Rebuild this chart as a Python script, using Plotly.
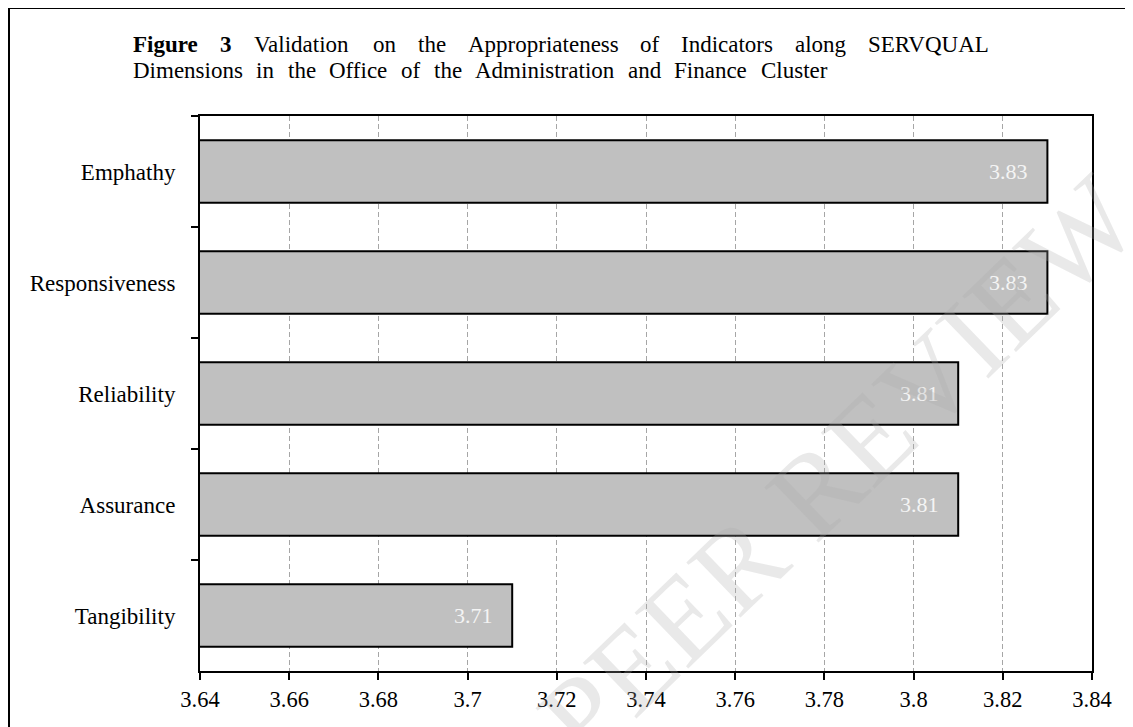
import plotly.graph_objects as go

# ---- data ----
categories = ["Emphathy", "Responsiveness", "Reliability", "Assurance", "Tangibility"]
values = [3.83, 3.83, 3.81, 3.81, 3.71]
value_labels = ["3.83", "3.83", "3.81", "3.81", "3.71"]
x_tickvals = [3.64, 3.66, 3.68, 3.70, 3.72, 3.74, 3.76, 3.78, 3.80, 3.82, 3.84]
x_ticktext = ["3.64", "3.66", "3.68", "3.7", "3.72", "3.74", "3.76", "3.78", "3.8", "3.82", "3.84"]
title_line1 = [("Figure", True), ("3", True), ("Validation", False), ("on", False), ("the", False),
               ("Appropriateness", False), ("of", False), ("Indicators", False), ("along", False),
               ("SERVQUAL", False)]
title_line2 = [(w, False) for w in "Dimensions in the Office of the Administration and Finance Cluster".split()]
watermark = "PEER REVIEW"

FONT = "Liberation Serif, Times New Roman, serif"
SW, SH = 1133, 727          # screen size
OFF = 8                     # page body margin
W, H = SW - OFF, SH - OFF   # figure size
L, R, T, B = 200, 1092, 116, 671  # plot area in screen pixels

def px(x):
    return (x - L) / (R - L)

def py(y):
    return (B - y) / (B - T)

# Times metrics (em) for justification of the caption
REG = dict(a=.444, b=.5, c=.444, d=.5, e=.444, f=.333, g=.5, h=.5, i=.278, j=.278, k=.5, l=.278,
           m=.778, n=.5, o=.5, p=.5, q=.5, r=.333, s=.389, t=.278, u=.5, v=.5, w=.722, x=.5, y=.5,
           z=.444, A=.722, C=.667, D=.722, E=.611, F=.556, I=.333, L=.611, O=.722, Q=.722, R=.667,
           S=.556, U=.722, V=.722)
BOLD = dict(F=.611, i=.278, g=.5, u=.556, r=.444, e=.444)
BOLD["3"] = .5

def tw(word, bold, fs):
    table = BOLD if bold else REG
    return sum(table.get(ch, .5) for ch in word) * fs

TFS = 23
annotations = []

def justify(words, x0, x1, ycen):
    widths = [tw(w, b, TFS) for w, b in words]
    gap = (x1 - x0 - sum(widths)) / (len(words) - 1)
    x = x0
    for (w, b), wd in zip(words, widths):
        annotations.append(dict(
            x=px(x), y=py(ycen), xref="paper", yref="paper", xanchor="left", yanchor="middle",
            text=f"<b>{w}</b>" if b else w, showarrow=False, borderpad=0,
            font=dict(family=FONT, size=TFS, color="black")))
        x += wd + gap

justify(title_line1, 132, 990, 45)
justify(title_line2, 132, 826, 71)

# value labels inside the bar ends
for c, v, t in zip(categories, values, value_labels):
    annotations.append(dict(x=v, y=c, xref="x", yref="y", xanchor="right", yanchor="middle",
                            xshift=-17, text=t, showarrow=False,
                            font=dict(family=FONT, size=22, color="#f4f4f4")))

# faint watermark
annotations.append(dict(x=px(838), y=py(468), xref="paper", yref="paper", xanchor="center",
                        yanchor="middle", text=watermark, showarrow=False, textangle=-44,
                        font=dict(family=FONT, size=118, color="rgba(170,170,170,0.26)")))

fig = go.Figure(go.Bar(
    x=values, y=categories, orientation="h",
    marker=dict(color="#c0c0c0", line=dict(color="black", width=2)),
    hoverinfo="skip",
))

fig.update_layout(
    width=W, height=H,
    margin=dict(l=L - OFF, r=SW - R, t=T - OFF, b=SH - B),
    paper_bgcolor="white", plot_bgcolor="white",
    bargap=0.437, showlegend=False,
    font=dict(family=FONT, size=23, color="black"),
    annotations=annotations,
    shapes=[dict(type="rect", xref="paper", yref="paper",
                 x0=px(9), x1=px(1145), y0=py(745), y1=py(8),
                 line=dict(color="black", width=2), fillcolor="rgba(0,0,0,0)", layer="below")],
)

fig.update_xaxes(
    range=[3.64, 3.84], tickvals=x_tickvals, ticktext=x_ticktext,
    showgrid=True, gridcolor="#a6a6a6", gridwidth=1.3, griddash="5px,3px",
    showline=True, linecolor="black", linewidth=2, mirror=True,
    ticks="outside", ticklen=7, tickwidth=2, tickcolor="black",
    tickfont=dict(family=FONT, size=22.5, color="black"), zeroline=False,
)
fig.update_yaxes(
    autorange="reversed", categoryorder="array", categoryarray=categories,
    showgrid=False, showline=True, linecolor="black", linewidth=2, mirror=True,
    ticks="outside", ticklen=7, tickwidth=2, tickcolor="black", tickson="boundaries",
    ticklabelstandoff=18,
    tickfont=dict(family=FONT, size=23, color="black"),
)

fig.write_html("out.html")
